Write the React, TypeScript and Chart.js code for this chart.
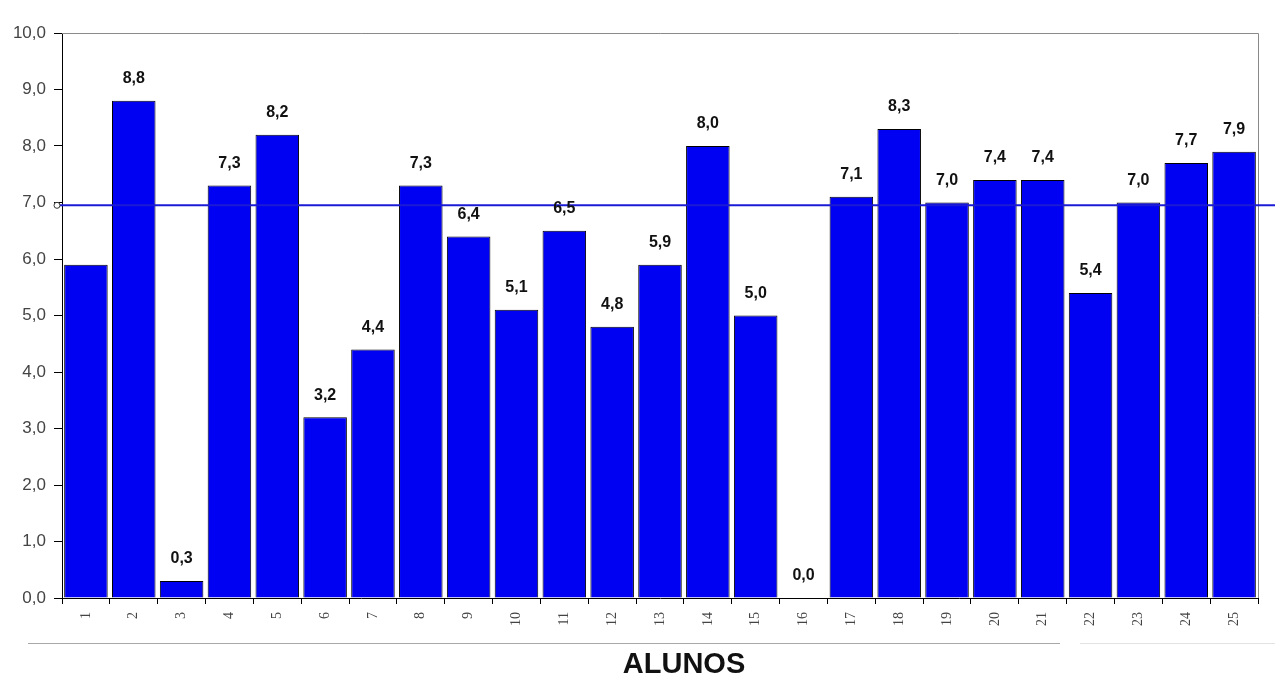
import React, { useEffect, useRef } from "react";
import { Chart, registerables } from "chart.js";

Chart.register(...registerables);

// Notas por aluno
const alunos = ["1","2","3","4","5","6","7","8","9","10","11","12","13","14","15","16","17","18","19","20","21","22","23","24","25"];
const notas = [5.9, 8.8, 0.3, 7.3, 8.2, 3.2, 4.4, 7.3, 6.4, 5.1, 6.5, 4.8, 5.9, 8.0, 5.0, 0.0, 7.1, 8.3, 7.0, 7.4, 7.4, 5.4, 7.0, 7.7, 7.9];
// Rótulos exibidos acima das barras (o primeiro não aparece)
const mostrarRotulo = [false, true, true, true, true, true, true, true, true, true, true, true, true, true, true, true, true, true, true, true, true, true, true, true, true];
const mediaTurma = 6.95;
const yTicks = [0, 1, 2, 3, 4, 5, 6, 7, 8, 9, 10];
const tituloEixoX = "ALUNOS";

const fmt = (v: number) => v.toFixed(1).replace(".", ",");

const decorPlugin = {
  id: "decor",
  beforeDatasetsDraw(chart: any) {
    const { ctx, chartArea } = chart;
    ctx.save();
    ctx.strokeStyle = "#8a8a8a";
    ctx.lineWidth = 1;
    ctx.beginPath();
    ctx.moveTo(chartArea.left, chartArea.top + 0.5);
    ctx.lineTo(chartArea.right + 0.5, chartArea.top + 0.5);
    ctx.lineTo(chartArea.right + 0.5, chartArea.bottom);
    ctx.stroke();
    // linha cinza abaixo dos rótulos do eixo
    ctx.strokeStyle = "#a8a8a8";
    ctx.beginPath();
    ctx.moveTo(28, 643.5);
    ctx.lineTo(1060, 643.5);
    ctx.stroke();
    ctx.strokeStyle = "#e2e2e2";
    ctx.beginPath();
    ctx.moveTo(1080, 643.5);
    ctx.lineTo(chart.width, 643.5);
    ctx.stroke();
    // título do eixo X
    ctx.fillStyle = "#111";
    ctx.font = "bold 29px 'Liberation Sans', Arial, sans-serif";
    ctx.textAlign = "center";
    ctx.textBaseline = "alphabetic";
    ctx.fillText(tituloEixoX, (chartArea.left + chartArea.right) / 2 + 24, 673);
    ctx.restore();
  },
  afterDatasetsDraw(chart: any) {
    const { ctx, chartArea } = chart;
    const y = chart.scales.y.getPixelForValue(mediaTurma);
    ctx.save();
    // linha da média
    ctx.strokeStyle = "#1b1bd6";
    ctx.lineWidth = 2;
    ctx.beginPath();
    ctx.moveTo(chartArea.left - 3, y);
    ctx.lineTo(chart.width, y);
    ctx.stroke();
    ctx.fillStyle = "#ffffff";
    ctx.strokeStyle = "#333";
    ctx.lineWidth = 1;
    ctx.beginPath();
    ctx.arc(chartArea.left - 5, y, 3, 0, Math.PI * 2);
    ctx.fill();
    ctx.stroke();
    // valores acima das barras
    const meta = chart.getDatasetMeta(0);
    ctx.fillStyle = "#111";
    ctx.font = "bold 16px 'Liberation Sans', Arial, sans-serif";
    ctx.textAlign = "center";
    ctx.textBaseline = "middle";
    meta.data.forEach((bar: any, i: number) => {
      if (!mostrarRotulo[i]) return;
      ctx.fillText(fmt(notas[i]), bar.x, bar.y - 22);
    });
    ctx.restore();
  },
};

export default function App() {
  const ref = useRef<HTMLCanvasElement>(null);
  useEffect(() => {
    document.body.style.margin = "0";
    const chart = new Chart(ref.current!, {
      type: "bar",
      data: {
        labels: alunos,
        datasets: [
          {
            data: notas,
            backgroundColor: "#0000f2",
            borderColor: "#000000",
            borderWidth: 1,
            barPercentage: 0.91,
            categoryPercentage: 1,
          },
        ],
      },
      options: {
        animation: false,
        responsive: false,
        layout: { padding: { top: 33, right: 17, left: 0, bottom: 0 } },
        plugins: { legend: { display: false }, tooltip: { enabled: false } },
        scales: {
          x: {
            grid: { offset: true, drawOnChartArea: false, tickLength: 6, color: "#000" },
            border: { color: "#000", width: 1 },
            ticks: {
              minRotation: 90,
              maxRotation: 90,
              color: "#444",
              padding: 8,
              font: { family: "'Liberation Serif', 'Times New Roman', serif", size: 14 },
            },
            afterFit(scale: any) {
              scale.height = 76;
            },
          },
          y: {
            min: 0,
            max: 10,
            afterBuildTicks(scale: any) {
              scale.ticks = yTicks.map((v) => ({ value: v }));
            },
            grid: { drawOnChartArea: false, tickLength: 8, color: "#000" },
            border: { color: "#000", width: 1 },
            ticks: {
              color: "#444",
              padding: 8,
              font: { family: "'Liberation Sans', Arial, sans-serif", size: 17 },
              callback: (v: any) => fmt(Number(v)),
            },
            afterFit(scale: any) {
              scale.width = 62;
            },
          },
        },
      },
      plugins: [decorPlugin],
    });
    return () => chart.destroy();
  }, []);
  return (
    <div style={{ position: "absolute", left: 0, top: 0, width: 1275, height: 674, background: "#fff" }}>
      <canvas ref={ref} width={1275} height={674} />
    </div>
  );
}
